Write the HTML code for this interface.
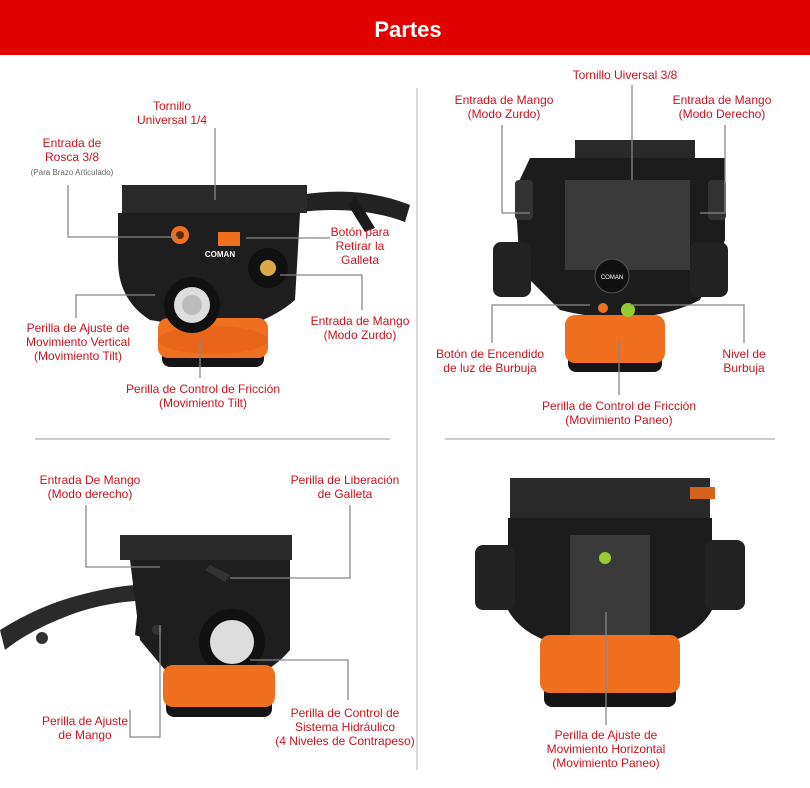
<!DOCTYPE html>
<html><head><meta charset="utf-8"><style>
html,body{margin:0;padding:0;background:#fff;}
svg{display:block;font-family:"Liberation Sans",Arial,sans-serif;}
.l{fill:#c8141e;font-size:12px;text-anchor:middle;}
.s{fill:#666;font-size:8px;text-anchor:middle;}
.ln{stroke:#888;stroke-width:1.3;fill:none;}
</style></head><body>
<svg width="810" height="788" viewBox="0 0 810 788">
<rect x="0" y="0" width="810" height="55" fill="#e00000"/>
<text x="408" y="37" fill="#fff" font-size="22" font-weight="bold" text-anchor="middle">Partes</text>
<line x1="417" y1="88" x2="417" y2="770" stroke="#ccc" stroke-width="1.5"/>
<line x1="35" y1="439" x2="390" y2="439" stroke="#ccc" stroke-width="2"/>
<line x1="445" y1="439" x2="775" y2="439" stroke="#ccc" stroke-width="2"/>

<!-- Top-left device -->
<path d="M300 195 Q360 185 410 205 L405 222 Q360 205 300 212Z" fill="#222"/>
<path d="M355 195 L375 228 L365 232 L348 205Z" fill="#1a1a1a"/>
<rect x="122" y="185" width="185" height="28" fill="#2a2a2a"/>
<path d="M118 213 L300 213 L295 300 Q260 330 210 330 L150 320 Q118 300 118 260Z" fill="#1e1e1e"/>
<rect x="162" y="345" width="102" height="22" rx="8" fill="#151515"/>
<rect x="158" y="318" width="110" height="40" rx="10" fill="#f07020"/>
<ellipse cx="213" cy="340" rx="55" ry="14" fill="#e8651a"/>
<circle cx="192" cy="305" r="28" fill="#111"/><circle cx="192" cy="305" r="18" fill="#ddd"/><circle cx="192" cy="305" r="10" fill="#bbb"/>
<circle cx="268" cy="268" r="20" fill="#111"/><circle cx="268" cy="268" r="8" fill="#d9a84a"/>
<circle cx="180" cy="235" r="9" fill="#f07020"/><circle cx="180" cy="235" r="4" fill="#5a2a10"/><rect x="218" y="232" width="22" height="14" fill="#f07020"/>
<text x="220" y="257" fill="#fff" font-size="8" font-weight="bold" text-anchor="middle">COMAN</text>

<!-- Top-right device -->
<rect x="575" y="140" width="120" height="25" fill="#2a2a2a"/>
<path d="M530 158 L725 158 L725 240 L700 300 Q640 330 560 310 L520 270 L515 190Z" fill="#1c1c1c"/>
<rect x="565" y="180" width="125" height="90" fill="#3a3a3a"/>
<rect x="515" y="180" width="18" height="40" rx="4" fill="#333"/>
<rect x="708" y="180" width="18" height="40" rx="4" fill="#333"/>
<rect x="493" y="242" width="38" height="55" rx="8" fill="#222"/>
<rect x="690" y="242" width="38" height="55" rx="8" fill="#222"/>
<rect x="568" y="350" width="94" height="22" rx="8" fill="#151515"/>
<rect x="565" y="315" width="100" height="48" rx="10" fill="#f07020"/>
<circle cx="612" cy="276" r="17" fill="#111" stroke="#555"/>
<text x="612" y="279" fill="#fff" font-size="6" text-anchor="middle">COMAN</text>
<circle cx="628" cy="310" r="7" fill="#9c3"/><circle cx="603" cy="308" r="5" fill="#f07020"/>

<!-- Bottom-left device -->
<path d="M0 630 Q40 605 80 595 Q130 582 160 585 L160 600 Q110 600 70 615 Q30 630 5 650Z" fill="#2a2a2a"/>
<path d="M140 590 L160 585 L150 640 L135 635Z" fill="#1a1a1a"/>
<circle cx="42" cy="638" r="6" fill="#333"/>
<rect x="120" y="535" width="172" height="25" fill="#2a2a2a"/>
<path d="M130 560 L290 560 L290 650 Q260 685 210 685 L165 670 L140 640Z" fill="#1e1e1e"/>
<circle cx="232" cy="642" r="33" fill="#111"/><circle cx="232" cy="642" r="22" fill="#ddd"/>
<rect x="166" y="695" width="106" height="22" rx="8" fill="#151515"/>
<rect x="163" y="665" width="112" height="42" rx="10" fill="#f07020"/>
<path d="M210 565 L230 575 L225 582 L205 570Z" fill="#333"/>
<circle cx="157" cy="630" r="5" fill="#333"/>

<!-- Bottom-right device -->
<rect x="510" y="478" width="200" height="40" fill="#2a2a2a"/>
<rect x="690" y="487" width="25" height="12" fill="#d4621a"/>
<path d="M508 518 L712 518 L712 610 Q690 650 610 650 Q530 650 508 610Z" fill="#1c1c1c"/>
<rect x="570" y="535" width="80" height="100" fill="#3a3a3a"/>
<rect x="475" y="545" width="40" height="65" rx="8" fill="#222"/>
<rect x="705" y="540" width="40" height="70" rx="8" fill="#222"/>
<rect x="544" y="685" width="132" height="22" rx="8" fill="#151515"/>
<rect x="540" y="635" width="140" height="58" rx="10" fill="#f07020"/>
<circle cx="605" cy="558" r="6" fill="#9c3"/>

<!-- leader lines -->
<g class="ln">
<path d="M215 128 V200"/>
<path d="M68 185 V237 H178"/>
<path d="M246 238 H330"/>
<path d="M76 318 V295 H155"/>
<path d="M280 275 H362 V310"/>
<path d="M200 340 V378"/>
<path d="M632 85 V180"/>
<path d="M502 125 V213 H530"/>
<path d="M725 125 V213 H700"/>
<path d="M492 343 V305 H590"/>
<path d="M744 343 V305 H630"/>
<path d="M619 340 V395"/>
<path d="M86 505 V567 H160"/>
<path d="M350 505 V578 H230"/>
<path d="M130 710 V737 H160 V625"/>
<path d="M348 700 V660 H250"/>
<path d="M606 725 V612"/>
</g>

<!-- labels -->
<text class="l"><tspan x="172" y="110">Tornillo</tspan><tspan x="172" y="124">Universal 1/4</tspan></text>
<text class="l"><tspan x="72" y="147">Entrada de</tspan><tspan x="72" y="161">Rosca 3/8</tspan></text>
<text class="s" x="72" y="175">(Para Brazo Articulado)</text>
<text class="l"><tspan x="360" y="236">Botón para</tspan><tspan x="360" y="250">Retirar la</tspan><tspan x="360" y="264">Galleta</tspan></text>
<text class="l"><tspan x="78" y="332">Perilla de Ajuste de</tspan><tspan x="78" y="346">Movimiento Vertical</tspan><tspan x="78" y="360">(Movimiento Tilt)</tspan></text>
<text class="l"><tspan x="360" y="325">Entrada de Mango</tspan><tspan x="360" y="339">(Modo Zurdo)</tspan></text>
<text class="l"><tspan x="203" y="393">Perilla de Control de Fricción</tspan><tspan x="203" y="407">(Movimiento Tilt)</tspan></text>
<text class="l" x="625" y="79">Tornillo Uiversal 3/8</text>
<text class="l"><tspan x="504" y="104">Entrada de Mango</tspan><tspan x="504" y="118">(Modo Zurdo)</tspan></text>
<text class="l"><tspan x="722" y="104">Entrada de Mango</tspan><tspan x="722" y="118">(Modo Derecho)</tspan></text>
<text class="l"><tspan x="490" y="358">Botón de Encendido</tspan><tspan x="490" y="372">de luz de Burbuja</tspan></text>
<text class="l"><tspan x="744" y="358">Nivel de</tspan><tspan x="744" y="372">Burbuja</tspan></text>
<text class="l"><tspan x="619" y="410">Perilla de Control de Fricción</tspan><tspan x="619" y="424">(Movimiento Paneo)</tspan></text>
<text class="l"><tspan x="90" y="484">Entrada De Mango</tspan><tspan x="90" y="498">(Modo derecho)</tspan></text>
<text class="l"><tspan x="345" y="484">Perilla de Liberación</tspan><tspan x="345" y="498">de Galleta</tspan></text>
<text class="l"><tspan x="85" y="725">Perilla de Ajuste</tspan><tspan x="85" y="739">de Mango</tspan></text>
<text class="l"><tspan x="345" y="717">Perilla de Control de</tspan><tspan x="345" y="731">Sistema Hidráulico</tspan><tspan x="345" y="745">(4 Niveles de Contrapeso)</tspan></text>
<text class="l"><tspan x="606" y="739">Perilla de Ajuste de</tspan><tspan x="606" y="753">Movimiento Horizontal</tspan><tspan x="606" y="767">(Movimiento Paneo)</tspan></text>
</svg>
</body></html>
